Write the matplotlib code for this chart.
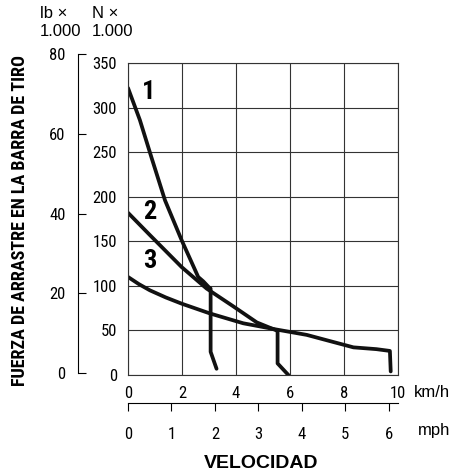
import numpy as np
import matplotlib
matplotlib.use("Agg")
import matplotlib.pyplot as plt
from matplotlib import font_manager

# pick a narrow family that has a bold face, else fall back to Liberation Sans
weights = {}
for f in font_manager.fontManager.ttflist:
    weights.setdefault(f.name, set()).add(f.weight)
prefs = ["Roboto Condensed", "Archivo Narrow", "PT Sans Narrow",
         "Liberation Sans Narrow", "Fira Sans Condensed", "Encode Sans Condensed"]
narrow = "Liberation Sans"
for p in prefs:
    w = weights.get(p, set())
    if any(x in (400, "normal", "regular") for x in w) and \
       any(x in (700, "bold") for x in w):
        narrow = p
        break
plt.rcParams["font.family"] = [narrow, "DejaVu Sans"]

# curves: speed in km/h, drawbar pull in N x 1000
c1_x = [0, 0.44, 0.88, 1.37, 1.99, 2.6, 2.79, 3.04, 3.06, 3.06, 3.28]
c1_y = [322, 286, 243, 196, 151, 110, 105, 97, 97, 26, 7]
c2_x = [0, 0.81, 1.99, 2.91, 3.9, 4.77, 5.5, 5.54, 5.54, 5.94]
c2_y = [182, 157, 121, 97, 77, 59, 50, 50, 13, 0]
c3_x = [0, 0.4, 0.81, 1.4, 1.99, 3.04, 4.27, 5.5, 6.62, 7.36, 8.35, 9.2, 9.7, 9.7, 9.73]
c3_y = [110, 102, 95, 87, 80, 69, 58, 51, 45, 39, 31, 29, 27, 27, 4]
curve_labels = ["1", "2", "3"]
label_pos = [(0.75, 318), (0.8, 183), (0.8, 128)]

kmh_ticks = [0, 2, 4, 6, 8, 10]
n_ticks = [0, 50, 100, 150, 200, 250, 300, 350]
lb_ticks = [0, 20, 40, 60, 80]
mph_ticks = [0, 1, 2, 3, 4, 5, 6]

W, H = 455, 476
fig = plt.figure(figsize=(W / 100, H / 100), dpi=100)

def box(x0, y0, x1, y1):
    return [x0 / W, 1 - y1 / H, (x1 - x0) / W, (y1 - y0) / H]

ax = fig.add_axes(box(128, 63, 398, 375))
for xs, ys in [(c1_x, c1_y), (c2_x, c2_y), (c3_x, c3_y)]:
    ax.plot(xs, ys, color="#111111", lw=2.7, solid_capstyle="round",
            solid_joinstyle="round")
for lab, (lx, ly) in zip(curve_labels, label_pos):
    ax.text(lx, ly, lab, fontsize=19, fontweight="bold", ha="center", va="center")
ax.set_xlim(0, 10)
ax.set_ylim(0, 350)
ax.set_xticks(kmh_ticks)
ax.set_yticks(n_ticks)
ax.grid(True, color="#333333", lw=0.8)
ax.tick_params(length=0, labelsize=12, pad=8)
for s in ax.spines.values():
    s.set_color("#333333")
    s.set_linewidth(0.8)
ax.text(1.06, -0.055, "km/h", transform=ax.transAxes, fontsize=12,
        family="Liberation Sans", va="center", ha="left")

# lb axis
axl = fig.add_axes(box(78, 54, 90, 373))
axl.set_ylim(0, 80)
axl.set_yticks(lb_ticks)
axl.set_xticks([])
for k in ["top", "right", "bottom"]:
    axl.spines[k].set_visible(False)
axl.patch.set_visible(False)
axl.tick_params(axis="y", direction="in", length=6, labelsize=12, pad=9)

# mph axis
mph_max = 10 / 1.609344
axm = fig.add_axes(box(128, 380, 398, 403))
axm.set_xlim(0, mph_max)
axm.set_xticks(mph_ticks)
axm.set_yticks([])
for k in ["top", "right", "left"]:
    axm.spines[k].set_visible(False)
axm.patch.set_visible(False)
axm.tick_params(axis="x", direction="out", length=6, labelsize=12, pad=11)
fig.text(418 / W, 1 - 430 / H, "mph", fontsize=12, family="Liberation Sans",
         va="center")

fig.text(261 / W, 1 - 464 / H, "VELOCIDAD", fontsize=14, fontweight="bold",
         family="Liberation Sans", ha="center", va="center")
fig.text(20 / W, 1 - 221 / H, "FUERZA DE ARRASTRE EN LA BARRA DE TIRO",
         fontsize=13, fontweight="bold", rotation=90, ha="center", va="center")
fig.text(40 / W, 1 - 22 / H, "lb \u00d7\n1.000", fontsize=12,
         family="Liberation Sans", va="center", linespacing=1.25)
fig.text(92 / W, 1 - 22 / H, "N \u00d7\n1.000", fontsize=12,
         family="Liberation Sans", va="center", linespacing=1.25)

fig.savefig("out.png", dpi=100)
